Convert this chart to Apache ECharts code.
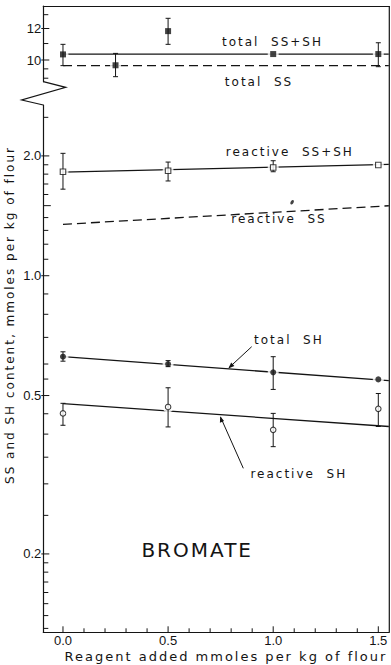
<!DOCTYPE html>
<html>
<head>
<meta charset="utf-8">
<script src="https://cdn.jsdelivr.net/npm/echarts@6/dist/echarts.min.js"></script>
<style>
  html, body { margin: 0; padding: 0; background: #fff; }
  #main { width: 391px; height: 665px; }
  /* hand-lettered look: widely spaced annotation and title lettering */
  #main text[style*="DejaVu"], #main text[font-family*="DejaVu"] { letter-spacing: 2px; }
</style>
</head>
<body>
<div id="main"></div>
<script>
// ---- data: SS and SH content (mmol per kg flour) vs bromate added ----
const xLevels = [0, 0.5, 1.0, 1.5];
const fitX = [0, 1.55];

// total SS + SH (filled squares), upper panel
const totalSSSH_x  = [0, 0.25, 0.5, 1.0, 1.5];
const totalSSSH    = [10.33, 9.70, 11.82, 10.35, 10.35];
const totalSSSH_lo = [9.68, 9.08, 10.95, null, 9.62];
const totalSSSH_hi = [10.95, 10.39, 12.73, null, 11.05];
const totalSSSH_fit = [10.35, 10.35];
// total SS (dashed fit)
const totalSS_fit = [9.68, 9.68];

// reactive SS + SH (open squares)
const reactSSSH    = [1.825, 1.835, 1.87, 1.897];
const reactSSSH_lo = [1.65, 1.73, 1.825, null];
const reactSSSH_hi = [2.03, 1.93, 1.945, null];
const reactSSSH_fit = [1.82, 1.905];
// reactive SS (dashed fit) and a lone point
const reactSS_fit = [1.346, 1.499];
const reactSS_x = [1.09];
const reactSS   = [1.53];

// total SH (filled circles)
const totalSH    = [0.626, 0.600, 0.572, 0.549];
const totalSH_lo = [0.610, 0.591, 0.518, null];
const totalSH_hi = [0.644, 0.612, 0.626, null];
const totalSH_fit = [0.626, 0.545];

// reactive SH (open circles)
const reactSH    = [0.451, 0.468, 0.410, 0.463];
const reactSH_lo = [0.421, 0.417, 0.372, 0.418];
const reactSH_hi = [0.478, 0.523, 0.451, 0.506];
const reactSH_fit = [0.477, 0.418];

// ---- axes ----
const X_RANGE = [-0.0936, 1.5523];
const UPPER_RANGE = [8.82, 13.67];
const LOWER_RANGE = [0.1271, 2.685];

const xMinorTicks = [0.1, 0.2, 0.3, 0.4, 0.6, 0.7, 0.8, 0.9, 1.1, 1.2, 1.3, 1.4];
const xMajorTicks = [0, 0.5, 1.0, 1.5];
const xTickLabels = ['0.0', '0.5', '1.0', '1.5'];

const upperMinorTicks = [9, 9.5, 11, 13];
const upperMajorTicks = [10, 12];
const upperTickLabels = ['10', '12'];

const lowerMinorTicks = [0.13, 0.14, 0.15, 0.16, 0.17, 0.18, 0.19, 0.25, 0.3, 0.35, 0.4, 0.45,
                         0.55, 0.6, 0.7, 0.8, 0.9, 1.1, 1.2, 1.3, 1.4, 1.6, 1.7, 1.8, 1.9, 2.5];
const lowerMidTicks = [1.5];
const lowerMajorTicks = [0.2, 0.5, 1.0, 2.0];
const lowerTickLabels = ['0.2', '0.5', '1.0', '2.0'];

// ---- layout ----
const LEFT = 43.3, RIGHT_EDGE = 389.3;
const UP_TOP = 6, UP_BOTTOM = 81.7;
const LO_TOP = 105, LO_BOTTOM = 632.3;
const INK = '#141414';
const TICK_FONT = '13px "Liberation Sans", Arial, sans-serif';
const LETTER_FONT = '"DejaVu Sans", sans-serif';

const zip = (xs, ys) => xs.map((x, i) => [x, ys[i]]);
const bars = (xs, lo, hi) => xs.map((x, i) => [x, lo[i], hi[i]]).filter(d => d[1] != null);

function errRender(params, api) {
  const x = api.value(0);
  const a = api.coord([x, api.value(1)]);
  const b = api.coord([x, api.value(2)]);
  const w = 2.5, st = { stroke: INK, lineWidth: 1 };
  return { type: 'group', children: [
    { type: 'line', shape: { x1: a[0], y1: a[1], x2: b[0], y2: b[1] }, style: st },
    { type: 'line', shape: { x1: a[0] - w, y1: a[1], x2: a[0] + w, y2: a[1] }, style: st },
    { type: 'line', shape: { x1: b[0] - w, y1: b[1], x2: b[0] + w, y2: b[1] }, style: st }
  ]};
}

function yTickRender(len, back, labels) {
  return function (params, api) {
    const p = api.coord([api.value(0), api.value(1)]);
    const children = [{ type: 'line', shape: { x1: p[0] - back, y1: p[1], x2: p[0] + len, y2: p[1] },
                        style: { stroke: INK, lineWidth: 1 } }];
    if (labels) {
      children.push({ type: 'text', x: p[0] - 2, y: p[1],
        style: { text: labels[params.dataIndex], font: TICK_FONT, fill: INK,
                 align: 'right', verticalAlign: 'middle', textAlign: 'right', textVerticalAlign: 'middle' } });
    }
    return { type: 'group', children };
  };
}

function xTickRender(len, labels) {
  return function (params, api) {
    const p = api.coord([api.value(0), api.value(1)]);
    const children = [{ type: 'line', shape: { x1: p[0], y1: p[1], x2: p[0], y2: p[1] - len },
                        style: { stroke: INK, lineWidth: 1 } }];
    if (labels) {
      children.push({ type: 'text', x: p[0], y: p[1] + 8,
        style: { text: labels[params.dataIndex], font: TICK_FONT, fill: INK,
                 align: 'center', verticalAlign: 'middle', textAlign: 'center', textVerticalAlign: 'middle' } });
    }
    return { type: 'group', children };
  };
}

function decor(grid, data, render) {
  return { type: 'custom', xAxisIndex: grid, yAxisIndex: grid, clip: false, silent: true, z: 6,
           encode: { x: 0, y: 1 }, data, renderItem: render };
}

function fitLine(grid, ys, dashed) {
  return { type: 'line', xAxisIndex: grid, yAxisIndex: grid, data: zip(fitX, ys), showSymbol: false,
           silent: true, z: 2, lineStyle: { color: INK, width: 1.3, type: dashed ? [9, 5] : 'solid' } };
}

function halo(grid, pts) {
  return { type: 'scatter', xAxisIndex: grid, yAxisIndex: grid, data: pts, symbol: 'circle',
           symbolSize: 11, silent: true, z: 3, itemStyle: { color: '#fff' } };
}

function markers(grid, pts, symbol, open) {
  return { type: 'scatter', xAxisIndex: grid, yAxisIndex: grid, data: pts, symbol,
           symbolSize: open ? 5.5 : 6, silent: true, z: 5,
           itemStyle: open ? { color: '#fff', borderColor: INK, borderWidth: 1.1 } : { color: INK } };
}

function errors(grid, data) {
  return { type: 'custom', xAxisIndex: grid, yAxisIndex: grid, clip: false, silent: true, z: 4,
           encode: { x: 0, y: [1, 2] }, data, renderItem: errRender };
}

const axisLine = { show: true, onZero: false, lineStyle: { color: INK, width: 1.2 } };
const hidden = { axisTick: { show: false }, axisLabel: { show: false }, splitLine: { show: false } };

const ptsTotalSSSH = zip(totalSSSH_x, totalSSSH);
const ptsReactSSSH = zip(xLevels, reactSSSH);
const ptsTotalSH = zip(xLevels, totalSH);
const ptsReactSH = zip(xLevels, reactSH);

const chart = echarts.init(document.getElementById('main'), null, { renderer: 'svg' });
chart.setOption({
  animation: false,
  backgroundColor: '#fff',
  grid: [
    { left: LEFT, right: 391 - RIGHT_EDGE, top: UP_TOP, height: UP_BOTTOM - UP_TOP },
    { left: LEFT, right: 391 - RIGHT_EDGE, top: LO_TOP, height: LO_BOTTOM - LO_TOP }
  ],
  xAxis: [
    Object.assign({ gridIndex: 0, type: 'value', min: X_RANGE[0], max: X_RANGE[1], position: 'top', axisLine }, hidden),
    Object.assign({ gridIndex: 1, type: 'value', min: X_RANGE[0], max: X_RANGE[1], position: 'bottom', axisLine }, hidden)
  ],
  yAxis: [
    Object.assign({ gridIndex: 0, type: 'log', logBase: 10, min: UPPER_RANGE[0], max: UPPER_RANGE[1], axisLine }, hidden),
    Object.assign({ gridIndex: 1, type: 'log', logBase: 10, min: LOWER_RANGE[0], max: LOWER_RANGE[1], axisLine }, hidden)
  ],
  graphic: [
    // axis break on the left and the right-hand frame line
    { type: 'polyline', shape: { points: [[LEFT, UP_BOTTOM], [65.7, 87.3], [21.7, 100], [LEFT, LO_TOP]] },
      style: { stroke: INK, lineWidth: 1.2, fill: null }, silent: true },
    { type: 'line', shape: { x1: RIGHT_EDGE, y1: UP_TOP, x2: RIGHT_EDGE, y2: LO_BOTTOM },
      style: { stroke: INK, lineWidth: 1.2 }, silent: true },
    // curve labels
    { type: 'text', x: 272.5, y: 41.7, style: { text: 'total  SS+SH', font: '12px ' + LETTER_FONT, fill: INK, align: 'center', verticalAlign: 'middle', textAlign: 'center', textVerticalAlign: 'middle' } },
    { type: 'text', x: 259, y: 81.7, style: { text: 'total  SS', font: '12px ' + LETTER_FONT, fill: INK, align: 'center', verticalAlign: 'middle', textAlign: 'center', textVerticalAlign: 'middle' } },
    { type: 'text', x: 289.8, y: 152.3, style: { text: 'reactive  SS+SH', font: '12px ' + LETTER_FONT, fill: INK, align: 'center', verticalAlign: 'middle', textAlign: 'center', textVerticalAlign: 'middle' } },
    { type: 'text', x: 279, y: 219, style: { text: 'reactive  SS', font: '12px ' + LETTER_FONT, fill: INK, align: 'center', verticalAlign: 'middle', textAlign: 'center', textVerticalAlign: 'middle' } },
    { type: 'text', x: 288.9, y: 340, style: { text: 'total  SH', font: '12px ' + LETTER_FONT, fill: INK, align: 'center', verticalAlign: 'middle', textAlign: 'center', textVerticalAlign: 'middle' } },
    { type: 'text', x: 298.8, y: 474, style: { text: 'reactive  SH', font: '12px ' + LETTER_FONT, fill: INK, align: 'center', verticalAlign: 'middle', textAlign: 'center', textVerticalAlign: 'middle' } },
    { type: 'text', x: 197.2, y: 550, style: { text: 'BROMATE', font: '20px ' + LETTER_FONT, fill: INK, align: 'center', verticalAlign: 'middle', textAlign: 'center', textVerticalAlign: 'middle' } },
    // axis titles
    { type: 'text', x: 226, y: 656.7, style: { text: 'Reagent added mmoles per kg of flour', font: '13px ' + LETTER_FONT, fill: INK, align: 'center', verticalAlign: 'middle', textAlign: 'center', textVerticalAlign: 'middle' } },
    { type: 'text', x: 9.5, y: 315, rotation: Math.PI / 2, style: { text: 'SS and SH content, mmoles per kg of flour', font: '12px ' + LETTER_FONT, fill: INK, align: 'center', verticalAlign: 'middle', textAlign: 'center', textVerticalAlign: 'middle' } },
    // pointer arrows to the SH fits
    { type: 'line', shape: { x1: 251.7, y1: 346.7, x2: 229, y2: 367.7 }, style: { stroke: INK, lineWidth: 1 }, silent: true },
    { type: 'polygon', shape: { points: [[228.3, 368.6], [231.2, 362.6], [234.4, 366.1]] }, style: { fill: INK }, silent: true },
    { type: 'line', shape: { x1: 243.3, y1: 468.3, x2: 220.6, y2: 417.2 }, style: { stroke: INK, lineWidth: 1 }, silent: true },
    { type: 'polygon', shape: { points: [[220.2, 416.2], [219.9, 422.8], [224.1, 421.0]] }, style: { fill: INK }, silent: true }
  ],
  series: [
    // fitted lines
    fitLine(0, totalSSSH_fit, false),
    fitLine(0, totalSS_fit, true),
    fitLine(1, reactSSSH_fit, false),
    fitLine(1, reactSS_fit, true),
    fitLine(1, totalSH_fit, false),
    fitLine(1, reactSH_fit, false),
    // white gaps in the lines around each point
    halo(0, ptsTotalSSSH),
    halo(1, ptsReactSSSH),
    halo(1, ptsTotalSH),
    halo(1, ptsReactSH),
    // error bars
    errors(0, bars(totalSSSH_x, totalSSSH_lo, totalSSSH_hi)),
    errors(1, bars(xLevels, reactSSSH_lo, reactSSSH_hi)),
    errors(1, bars(xLevels, totalSH_lo, totalSH_hi)),
    errors(1, bars(xLevels, reactSH_lo, reactSH_hi)),
    // data points
    markers(0, ptsTotalSSSH, 'rect', false),
    markers(1, ptsReactSSSH, 'rect', true),
    markers(1, ptsTotalSH, 'circle', false),
    markers(1, ptsReactSH, 'circle', true),
    { type: 'scatter', xAxisIndex: 1, yAxisIndex: 1, data: zip(reactSS_x, reactSS), symbol: 'circle',
      symbolSize: [3, 5], symbolRotate: -30, silent: true, z: 5, itemStyle: { color: INK } },
    // axis ticks and tick labels
    decor(0, upperMinorTicks.map(v => [X_RANGE[0], v]), yTickRender(5, 0)),
    decor(0, upperMajorTicks.map(v => [X_RANGE[0], v]), yTickRender(6, 2, upperTickLabels)),
    decor(1, lowerMinorTicks.map(v => [X_RANGE[0], v]), yTickRender(5, 0)),
    decor(1, lowerMidTicks.map(v => [X_RANGE[0], v]), yTickRender(7.5, 0)),
    decor(1, lowerMajorTicks.map(v => [X_RANGE[0], v]), yTickRender(6, 2, lowerTickLabels)),
    decor(1, xMinorTicks.map(v => [v, LOWER_RANGE[0]]), xTickRender(4)),
    decor(1, xMajorTicks.map(v => [v, LOWER_RANGE[0]]), xTickRender(6, xTickLabels))
  ]
});
</script>
</body>
</html>
